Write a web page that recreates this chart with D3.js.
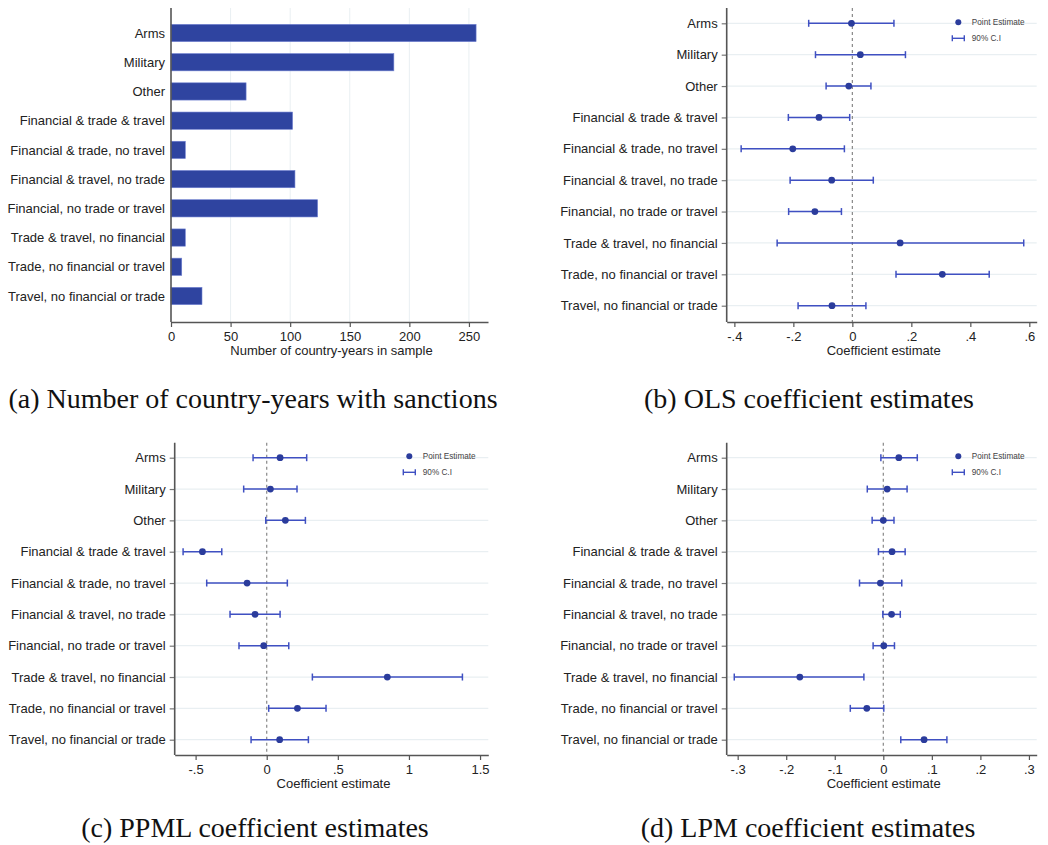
<!DOCTYPE html>
<html><head><meta charset="utf-8">
<script src="https://cdn.jsdelivr.net/npm/d3@7"></script>
<style>
html,body{margin:0;padding:0;background:#fff;}
svg{display:block;}
</style></head>
<body>
<svg id="chart" width="1048" height="845"></svg>
<script>
// ---------------- DATA ----------------
const categories = [
  "Arms","Military","Other","Financial & trade & travel","Financial & trade, no travel",
  "Financial & travel, no trade","Financial, no trade or travel","Trade & travel, no financial",
  "Trade, no financial or travel","Travel, no financial or trade"
];
const barCounts = [256, 187, 63, 102, 12, 104, 123, 12, 9, 26];
const barTicks = [0, 50, 100, 150, 200, 250];

const olsEst = [-0.003, 0.027, -0.012, -0.113, -0.202, -0.070, -0.127, 0.162, 0.305, -0.069];
const olsLo  = [-0.148, -0.125, -0.089, -0.217, -0.377, -0.211, -0.216, -0.255, 0.148, -0.184];
const olsHi  = [0.141, 0.180, 0.063, -0.009, -0.027, 0.071, -0.037, 0.581, 0.464, 0.046];
const olsTicks = [-0.4, -0.2, 0, 0.2, 0.4, 0.6];

const ppmlEst = [0.094, 0.026, 0.131, -0.452, -0.138, -0.082, -0.021, 0.848, 0.216, 0.091];
const ppmlLo  = [-0.096, -0.162, -0.007, -0.588, -0.422, -0.258, -0.195, 0.321, 0.014, -0.110];
const ppmlHi  = [0.281, 0.213, 0.272, -0.316, 0.145, 0.094, 0.155, 1.376, 0.417, 0.293];
const ppmlTicks = [-0.5, 0, 0.5, 1, 1.5];

const lpmEst = [0.032, 0.008, 0.000, 0.018, -0.006, 0.017, 0.001, -0.172, -0.034, 0.084];
const lpmLo  = [-0.005, -0.033, -0.023, -0.010, -0.049, -0.001, -0.021, -0.307, -0.068, 0.036];
const lpmHi  = [0.070, 0.049, 0.022, 0.045, 0.038, 0.035, 0.023, -0.040, 0.001, 0.131];
const lpmTicks = [-0.3, -0.2, -0.1, 0, 0.1, 0.2, 0.3];

const legendLabels = ["Point Estimate", "90% C.I"];
const captions = [
  "(a) Number of country-years with sanctions",
  "(b) OLS coefficient estimates",
  "(c) PPML coefficient estimates",
  "(d) LPM coefficient estimates"
];
const xTitles = ["Number of country-years in sample", "Coefficient estimate"];

// ---------------- STYLE ----------------
const barColor = "#2f44a0";
const dotColor = "#2b3c9c";
const ciColor = "#3f50c2";
const axisColor = "#555";
const gridColor = "#e9eff2";
const sans = "'Liberation Sans', Arimo, Arial, sans-serif";
const serif = "'Liberation Serif', 'Times New Roman', serif";

const svg = d3.select("#chart");

// Stata-like tick formatting (no leading zero)
function stataFmt(v) {
  if (Math.abs(v) < 1e-9) return "0";
  let s = String(+v.toFixed(3));
  s = s.replace(/^(-?)0\./, "$1.");
  return s;
}

function drawXAxis(g, x, yBase, ticks, title, titleY) {
  const ax = g.append("g").attr("transform", `translate(0,${yBase})`)
    .call(d3.axisBottom(x).tickValues(ticks).tickFormat(stataFmt).tickSize(5).tickPadding(5).tickSizeOuter(0));
  ax.select(".domain").attr("stroke", axisColor).attr("stroke-width", 1.6);
  ax.selectAll(".tick line").attr("stroke", axisColor).attr("stroke-width", 1.2);
  ax.selectAll(".tick text").attr("font-family", sans).attr("font-size", 13).attr("fill", "#222");
  g.append("text").attr("x", (x.range()[0] + x.range()[1]) / 2 + 2).attr("y", titleY)
    .attr("text-anchor", "middle").attr("font-family", sans).attr("font-size", 13).attr("fill", "#222")
    .text(title);
}

// ---------------- PANEL A (bars) ----------------
(function () {
  const left = 171, right = 488, top = 8, bottom = 322;
  const x = d3.scaleLinear().domain([0, 266]).range([left, right]);
  const y = d3.scalePoint().domain(categories).range([33, 296]);
  const bh = y.step() * 0.59;
  const g = svg.append("g");
  // vertical grid
  g.selectAll("line.grid").data(barTicks.filter(d => d > 0)).enter().append("line")
    .attr("x1", d => x(d)).attr("x2", d => x(d)).attr("y1", top).attr("y2", bottom)
    .attr("stroke", gridColor).attr("stroke-width", 1);
  // bars
  g.selectAll("rect.bar").data(categories).enter().append("rect")
    .attr("x", x(0)).attr("y", d => y(d) - bh / 2)
    .attr("width", (d, i) => x(barCounts[i]) - x(0)).attr("height", bh)
    .attr("fill", barColor).attr("stroke", "#6e7fd0").attr("stroke-width", 0.6);
  // y axis
  const ay = g.append("g").attr("transform", `translate(${left},0)`)
    .call(d3.axisLeft(y).tickSize(0).tickPadding(6));
  ay.select(".domain").remove();
  ay.selectAll(".tick text").attr("font-family", sans).attr("font-size", 13).attr("fill", "#222");
  g.append("line").attr("x1", left).attr("x2", left).attr("y1", top).attr("y2", bottom)
    .attr("stroke", axisColor).attr("stroke-width", 1.6);
  drawXAxis(g, x, bottom, barTicks, xTitles[0], 355);
})();

// ---------------- COEFFICIENT PANELS ----------------
function coefPanel(cfg) {
  const { left, right, top, bottom, yTop, yBot, domain, ticks, est, lo, hi, legX, legY } = cfg;
  const x = d3.scaleLinear().domain(domain).range([left, right]);
  const y = d3.scalePoint().domain(categories).range([yTop, yBot]);
  const g = svg.append("g");
  // horizontal grid
  g.selectAll("line.grid").data(categories).enter().append("line")
    .attr("x1", left).attr("x2", right).attr("y1", d => y(d)).attr("y2", d => y(d))
    .attr("stroke", gridColor).attr("stroke-width", 1.2);
  // zero dashed line
  g.append("line").attr("x1", x(0)).attr("x2", x(0)).attr("y1", top).attr("y2", bottom)
    .attr("stroke", "#888").attr("stroke-width", 1.2).attr("stroke-dasharray", "3,3");
  // CI lines
  const ci = g.selectAll("g.ci").data(categories).enter().append("g");
  ci.append("line").attr("x1", (d, i) => x(lo[i])).attr("x2", (d, i) => x(hi[i]))
    .attr("y1", d => y(d)).attr("y2", d => y(d)).attr("stroke", ciColor).attr("stroke-width", 1.5);
  ci.append("line").attr("x1", (d, i) => x(lo[i])).attr("x2", (d, i) => x(lo[i]))
    .attr("y1", d => y(d) - 3.5).attr("y2", d => y(d) + 3.5).attr("stroke", ciColor).attr("stroke-width", 1.5);
  ci.append("line").attr("x1", (d, i) => x(hi[i])).attr("x2", (d, i) => x(hi[i]))
    .attr("y1", d => y(d) - 3.5).attr("y2", d => y(d) + 3.5).attr("stroke", ciColor).attr("stroke-width", 1.5);
  // points
  g.selectAll("circle.pt").data(categories).enter().append("circle")
    .attr("cx", (d, i) => x(est[i])).attr("cy", d => y(d)).attr("r", 3.4).attr("fill", dotColor);
  // y axis
  const ay = g.append("g").attr("transform", `translate(${left},0)`)
    .call(d3.axisLeft(y).tickSize(5).tickPadding(4).tickSizeOuter(0));
  ay.select(".domain").remove();
  ay.selectAll(".tick line").attr("stroke", "#777").attr("stroke-width", 1.2);
  ay.selectAll(".tick text").attr("font-family", sans).attr("font-size", 13).attr("fill", "#222");
  g.append("line").attr("x1", left).attr("x2", left).attr("y1", top).attr("y2", bottom)
    .attr("stroke", axisColor).attr("stroke-width", 1.6);
  drawXAxis(g, x, bottom, ticks, xTitles[1], cfg.titleY);
  // legend
  const lg = g.append("g");
  lg.append("circle").attr("cx", legX + 6).attr("cy", legY).attr("r", 3).attr("fill", dotColor);
  lg.append("line").attr("x1", legX).attr("x2", legX + 12).attr("y1", legY + 16).attr("y2", legY + 16)
    .attr("stroke", ciColor).attr("stroke-width", 1.4);
  lg.append("line").attr("x1", legX).attr("x2", legX).attr("y1", legY + 13).attr("y2", legY + 19)
    .attr("stroke", ciColor).attr("stroke-width", 1.4);
  lg.append("line").attr("x1", legX + 12).attr("x2", legX + 12).attr("y1", legY + 13).attr("y2", legY + 19)
    .attr("stroke", ciColor).attr("stroke-width", 1.4);
  lg.selectAll("text").data(legendLabels).enter().append("text")
    .attr("x", legX + 19.5).attr("y", (d, i) => legY + i * 16 + 3)
    .attr("font-family", sans).attr("font-size", 8.2).attr("fill", "#444").text(d => d);
}

coefPanel({ left: 726.7, right: 1036.7, top: 8, bottom: 322, yTop: 23.3, yBot: 305.7,
  domain: [-0.426, 0.625], ticks: olsTicks, est: olsEst, lo: olsLo, hi: olsHi,
  legX: 952.3, legY: 22.3, titleY: 355 });
coefPanel({ left: 174.7, right: 488.3, top: 442.7, bottom: 755, yTop: 457.7, yBot: 739.7,
  domain: [-0.647, 1.558], ticks: ppmlTicks, est: ppmlEst, lo: ppmlLo, hi: ppmlHi,
  legX: 403.3, legY: 456.3, titleY: 788 });
coefPanel({ left: 726.7, right: 1036.7, top: 442.7, bottom: 755, yTop: 457.7, yBot: 739.7,
  domain: [-0.3226, 0.316], ticks: lpmTicks, est: lpmEst, lo: lpmLo, hi: lpmHi,
  legX: 952.3, legY: 456.3, titleY: 788 });

// ---------------- CAPTIONS ----------------
const capPos = [[253, 408], [809, 408], [255, 837], [808, 837]];
svg.selectAll("text.cap").data(captions).enter().append("text")
  .attr("x", (d, i) => capPos[i][0]).attr("y", (d, i) => capPos[i][1])
  .attr("text-anchor", "middle").attr("font-family", serif).attr("font-size", 28).attr("fill", "#111")
  .text(d => d);
</script>
</body></html>
